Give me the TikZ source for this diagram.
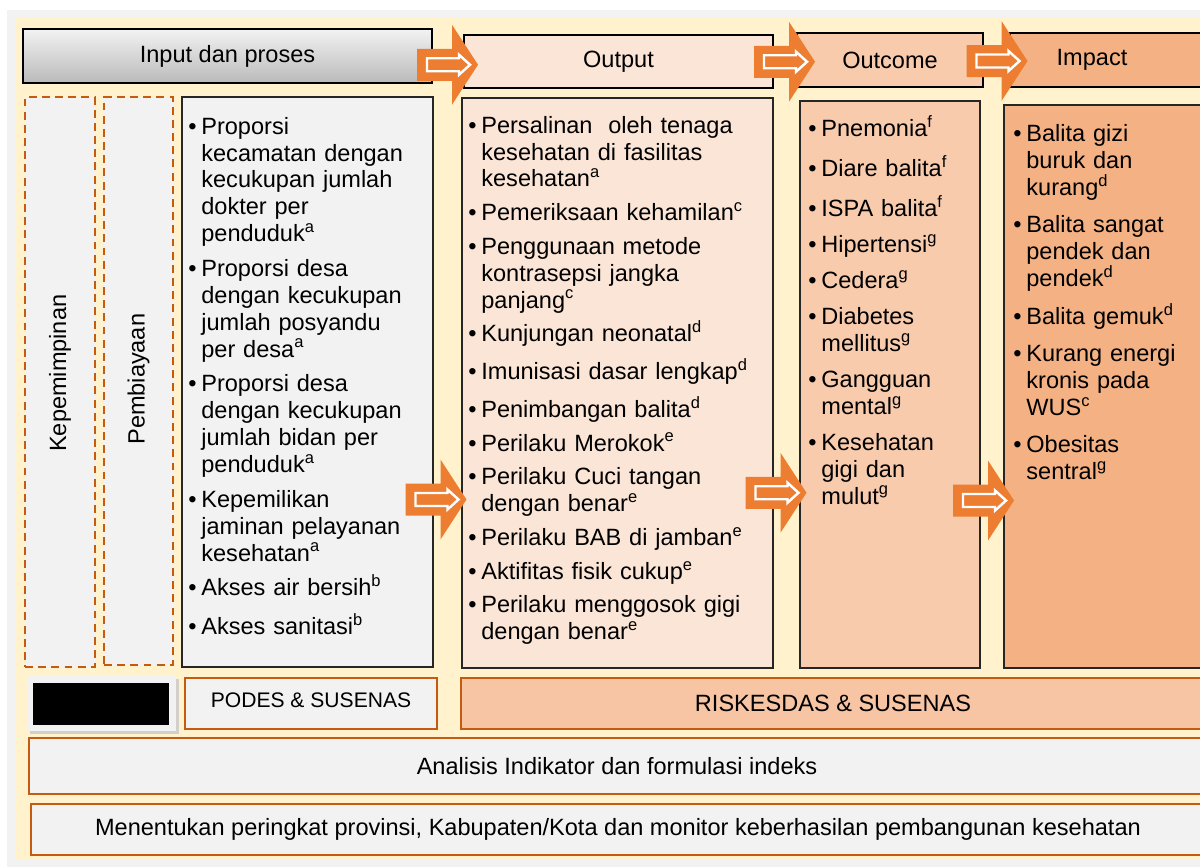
\documentclass[tikz,border=0pt]{standalone}
\usepackage{fontspec}
\setmainfont{Liberation Sans}
\usetikzlibrary{positioning,fit,calc}

\definecolor{bggray}{HTML}{F2F2F2}
\definecolor{panelyellow}{HTML}{FFF2CC}
\definecolor{arroworange}{HTML}{ED7D31}
\definecolor{darkorange}{HTML}{C55A11}
\definecolor{outputfill}{HTML}{FBE5D6}
\definecolor{outcomefill}{HTML}{F8CBAD}
\definecolor{impactfill}{HTML}{F4B183}
\definecolor{riskfill}{HTML}{F7C4A4}
\definecolor{shadowgray}{HTML}{D2D0C8}

\newcommand{\supr}[1]{\textsuperscript{#1}}
\newcommand{\nl}{\hfil\break}
\newcommand{\listfmt}[1]{\setlength{\parskip}{#1}\setlength{\parindent}{0pt}}
\newcommand{\itm}[1]{\par\hangindent=0.26cm\hangafter=1\noindent\makebox[0.26cm][l]{\strut\textbullet}#1}

\tikzset{
  hdr/.style={draw=black, line width=1.1pt, inner sep=0pt},
  listbox/.style={draw=black!85, line width=1.1pt, inner sep=0pt},
  dashbox/.style={draw=darkorange, line width=1.1pt, dash pattern=on 4.5pt off 3pt, fill=bggray, inner sep=0pt},
  srcbox/.style={draw=darkorange, line width=1.1pt, inner sep=0pt},
  listtext/.style={anchor=north west, inner sep=0pt, text width=#1},
  blockarrow/.pic={
    \fill[arroworange] (-30,-16) -- (5,-16) -- (5,-40) -- (31,0) -- (5,40) -- (5,16) -- (-30,16) -- cycle;
    \draw[white, line width=1.4pt, line join=miter] (-20,-6.5) -- (12,-6.5) -- (12,-10) -- (23,0) -- (12,10) -- (12,6.5) -- (-20,6.5) -- cycle;
  }
}

\begin{document}
\begin{tikzpicture}[x=0.02cm, y=-0.02cm, font=\fontsize{13.4}{15.3}\selectfont]
    \clip (0,0) rectangle (1200,866);
    \fill[white] (0,0) rectangle (1200,866);
    \fill[bggray] (7,10) rectangle (1210,870);
    \fill[panelyellow] (15,18) rectangle (1210,860);

    % headers
    \node[hdr, top color=bggray, bottom color=black!27, fit={(23,29) (432,83)}] (inp) {};
    \node[hdr, fill=outputfill, fit={(464,35) (773,88)}] (outp) {};
    \node[hdr, fill=outcomefill, fit={(797,33) (983,87)}] (outc) {};
    \node[hdr, fill=impactfill, fit={(1010,33) (1210,87)}] (imph) {};
    \node (inpt) at (inp.center) {Input dan proses};
    \node (outpt) at (outp.center) {Output};
    \node (outct) at (outc.center) {Outcome};
    \node (impt) at (1092,60) {Impact};

    % left dashed columns
    \node[dashbox, fit={(25,97) (95,667)}] (kep) {};
    \node[dashbox, fit={(104,97) (173,665)}] (pemb) {};
    \node[rotate=90] (kept) at ([yshift=5pt]kep.center) {Kepemimpinan};
    \node[rotate=90] (pembt) at ([yshift=1pt]pemb.center) {Pembiayaan};

    % list boxes
    \node[listbox, fill=bggray, fit={(182,97) (433,667)}] (inpl) {};
    \node[listbox, fill=outputfill, fit={(462,98) (773,668)}] (outl) {};
    \node[listbox, fill=outcomefill, fit={(800,101) (980,668)}] (outcl) {};
    \node[listbox, fill=impactfill, fit={(1004,105) (1210,668)}] (impl) {};

    \node[listtext=4.9cm] (inplt) at ([shift={(7,3)}]inpl.north west) {\listfmt{4.5pt}%
      \itm{Proporsi\nl kecamatan dengan\nl kecukupan jumlah\nl dokter per\nl penduduk\supr{a}}
      \itm{Proporsi desa\nl dengan kecukupan\nl jumlah posyandu\nl per desa\supr{a}}
      \itm{Proporsi desa\nl dengan kecukupan\nl jumlah bidan per\nl penduduk\supr{a}}
      \itm{Kepemilikan\nl jaminan pelayanan\nl kesehatan\supr{a}}
      \itm{Akses air bersih\supr{b}}
      \itm{Akses sanitasi\supr{b}}\par};

    \node[listtext=6cm] (outlt) at ([shift={(7,2)}]outl.north west) {\listfmt{3.9pt}%
      \itm{Persalinan\ \ oleh tenaga\nl kesehatan di fasilitas\nl kesehatan\supr{a}}
      \itm{Pemeriksaan kehamilan\supr{c}}
      \itm{Penggunaan metode\nl kontrasepsi jangka\nl panjang\supr{c}}
      \itm{Kunjungan neonatal\supr{d}}
      \itm{Imunisasi dasar lengkap\supr{d}}
      \itm{Penimbangan balita\supr{d}}
      \itm{Perilaku Merokok\supr{e}}
      \itm{Perilaku Cuci tangan\nl dengan benar\supr{e}}
      \itm{Perilaku BAB di jamban\supr{e}}
      \itm{Aktifitas fisik cukup\supr{e}}
      \itm{Perilaku menggosok gigi\nl dengan benar\supr{e}}\par};

    \node[listtext=3.4cm] (outclt) at ([shift={(9,0)}]outcl.north west) {\listfmt{5.2pt}%
      \itm{Pnemonia\supr{f}}
      \itm{Diare balita\supr{f}}
      \itm{ISPA balita\supr{f}}
      \itm{Hipertensi\supr{g}}
      \itm{Cedera\supr{g}}
      \itm{Diabetes\nl mellitus\supr{g}}
      \itm{Gangguan\nl mental\supr{g}}
      \itm{Kesehatan\nl gigi dan\nl mulut\supr{g}}\par};

    \node[listtext=3.8cm] (implt) at ([shift={(10,0)}]impl.north west) {\listfmt{6pt}%
      \itm{Balita gizi\nl buruk dan\nl kurang\supr{d}}
      \itm{Balita sangat\nl pendek dan\nl pendek\supr{d}}
      \itm{Balita gemuk\supr{d}}
      \itm{Kurang energi\nl kronis pada\nl WUS\supr{c}}
      \itm{Obesitas\nl sentral\supr{g}}\par};

    % data sources
    \fill[shadowgray] (30,679) rectangle (179,734);
    \fill[bggray] (27,676) rectangle (176,731);
    \node[fill=black, inner sep=0pt, fit={(33,683) (169,725)}] (blk) {};
    \node[srcbox, fill=bggray, fit={(185,678) (437,729)}] (podes) {};
    \node[srcbox, fill=riskfill, fit={(461,678) (1205,729)}] (risk) {};
    \node[srcbox, fill=bggray, fit={(29,738) (1205,794)}] (anal) {};
    \node[srcbox, fill=bggray, fit={(31,804) (1205,855)}] (rank) {};
    \node[font=\fontsize{12}{14}\selectfont] (podest) at ([yshift=2pt]podes.center) {PODES \& SUSENAS};
    \node (riskt) at (risk.center) {RISKESDAS \& SUSENAS};
    \node (analt) at (anal.center) {Analisis Indikator dan formulasi indeks};
    \node (rankt) at (rank.center) {Menentukan peringkat provinsi, Kabupaten/Kota dan monitor keberhasilan pembangunan kesehatan};

    % block arrows
    \pic at ($(inp.east)!0.5!(outp.west)+(-1,6)$) {blockarrow};
    \pic at ($(outp.east)!0.5!(outc.west)+(-1,1)$) {blockarrow};
    \pic at ($(outc.east)!0.5!(imph.west)+(0,1)$) {blockarrow};
    \pic at ($(inpl.east)!0.5!(outl.west)+(-12,117)$) {blockarrow};
    \pic at ($(outl.east)!0.5!(outcl.west)+(-11,109)$) {blockarrow};
    \pic at ($(outcl.east)!0.5!(impl.west)+(-9,115)$) {blockarrow};
\end{tikzpicture}
\end{document}
